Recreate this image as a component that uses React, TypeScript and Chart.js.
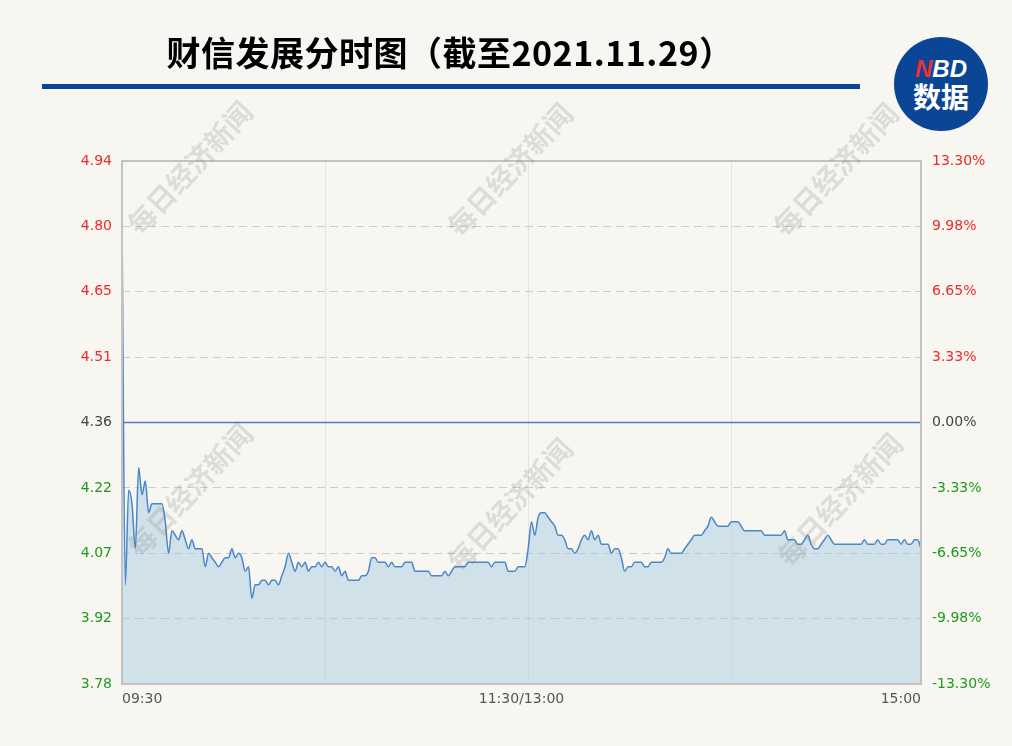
import React, { useEffect, useRef } from 'react';
import { Chart, registerables } from 'chart.js';

Chart.register(...registerables);

const titleText = '财信发展分时图（截至2021.11.29）';
const watermarkText = '每日经济新闻';

const prevClose = 4.36;
const priceMax = 4.94;
const priceMin = 3.78;

const priceTickLabels = ['4.94', '4.80', '4.65', '4.51', '4.36', '4.22', '4.07', '3.92', '3.78'];
const pctTickLabels = ['13.30%', '9.98%', '6.65%', '3.33%', '0.00%', '-3.33%', '-6.65%', '-9.98%', '-13.30%'];

const timeTickLabels = ['09:30', '11:30/13:00', '15:00'];
const timeTickMinutes = [0, 120, 240];
const hourGridMinutes = [61, 122, 183];

// 09:30 - 11:30 (one value per minute)
const morningPrices = [
  4.80, 4.00, 4.21, 4.18, 4.08, 4.26, 4.20, 4.23, 4.16, 4.18,
  4.18, 4.18, 4.18, 4.14, 4.07, 4.12, 4.11, 4.10, 4.12, 4.10,
  4.08, 4.10, 4.08, 4.08, 4.08, 4.04, 4.07, 4.06, 4.05, 4.04,
  4.05, 4.06, 4.06, 4.08, 4.06, 4.07, 4.06, 4.03, 4.04, 3.97,
  4.00, 4.00, 4.01, 4.01, 4.00, 4.01, 4.01, 4.00, 4.02, 4.04,
  4.07, 4.05, 4.03, 4.05, 4.04, 4.05, 4.03, 4.04, 4.04, 4.05,
  4.04, 4.05, 4.04, 4.04, 4.03, 4.04, 4.02, 4.03, 4.01, 4.01,
  4.01, 4.01, 4.02, 4.02, 4.03, 4.06, 4.06, 4.05, 4.05, 4.05,
  4.04, 4.05, 4.04, 4.04, 4.04, 4.05, 4.05, 4.05, 4.03, 4.03,
  4.03, 4.03, 4.03, 4.02, 4.02, 4.02, 4.02, 4.03, 4.02, 4.03,
  4.04, 4.04, 4.04, 4.04, 4.05, 4.05, 4.05, 4.05, 4.05, 4.05,
  4.05, 4.04, 4.05, 4.05, 4.05, 4.05, 4.03, 4.03, 4.03, 4.04,
  4.04,
];

// 13:01 - 15:00 (one value per minute)
const afternoonPrices = [
  4.04, 4.08, 4.14, 4.11, 4.15, 4.16, 4.16, 4.15, 4.14, 4.13,
  4.11, 4.11, 4.10, 4.08, 4.08, 4.07, 4.08, 4.10, 4.11, 4.10,
  4.12, 4.10, 4.11, 4.09, 4.09, 4.09, 4.07, 4.08, 4.08, 4.06,
  4.03, 4.04, 4.04, 4.05, 4.05, 4.05, 4.04, 4.04, 4.05, 4.05,
  4.05, 4.05, 4.06, 4.08, 4.07, 4.07, 4.07, 4.07, 4.08, 4.09,
  4.10, 4.11, 4.11, 4.11, 4.12, 4.13, 4.15, 4.14, 4.13, 4.13,
  4.13, 4.13, 4.14, 4.14, 4.14, 4.13, 4.12, 4.12, 4.12, 4.12,
  4.12, 4.12, 4.11, 4.11, 4.11, 4.11, 4.11, 4.11, 4.12, 4.10,
  4.10, 4.10, 4.09, 4.09, 4.10, 4.11, 4.09, 4.08, 4.08, 4.09,
  4.10, 4.11, 4.10, 4.09, 4.09, 4.09, 4.09, 4.09, 4.09, 4.09,
  4.09, 4.09, 4.10, 4.09, 4.09, 4.09, 4.10, 4.09, 4.09, 4.10,
  4.10, 4.10, 4.10, 4.09, 4.10, 4.09, 4.09, 4.10, 4.10, 4.08,
];

const RED = '#ee2a2a';
const GREEN = '#1f9a1f';
const NEUTRAL = '#444444';
const BG = '#f8f6f1';
const TICK_FONT = { family: '"DejaVu Sans", sans-serif', size: 14 };

function tickColor(index: number) {
  const mid = (priceTickLabels.length - 1) / 2;
  if (index < mid) return RED;
  if (index === mid) return NEUTRAL;
  return GREEN;
}

function buildYTicks(scale: any) {
  const n = priceTickLabels.length;
  scale.ticks = priceTickLabels.map((_, k) => ({ value: priceMax - (k * (priceMax - priceMin)) / (n - 1) }));
}

const framePlugin = {
  id: 'frame',
  afterDatasetsDraw(chart: any) {
    const { ctx, chartArea } = chart;
    ctx.save();
    ctx.strokeStyle = '#c2c2c2';
    ctx.lineWidth = 2;
    ctx.strokeRect(chartArea.left, chartArea.top, chartArea.right - chartArea.left, chartArea.bottom - chartArea.top);
    ctx.restore();
  },
};

const watermarkSpots = [
  [190, 168], [510, 170], [836, 170],
  [190, 490], [510, 505], [840, 500],
];

const watermarkPlugin = {
  id: 'watermark',
  afterDraw(chart: any) {
    const { ctx } = chart;
    ctx.save();
    ctx.font = 'bold 28px "Noto Sans CJK SC", sans-serif';
    ctx.fillStyle = 'rgba(120,120,120,0.2)';
    ctx.textAlign = 'center';
    ctx.textBaseline = 'middle';
    for (const [x, y] of watermarkSpots) {
      ctx.save();
      ctx.translate(x, y);
      ctx.rotate(-Math.PI / 4 - 0.04);
      ctx.fillText(watermarkText, 0, 0);
      ctx.restore();
    }
    ctx.restore();
  },
};

export default function App() {
  const canvasRef = useRef<HTMLCanvasElement | null>(null);

  useEffect(() => {
    if (!canvasRef.current) return;
    const prices = morningPrices.concat(afternoonPrices);
    const lastIndex = prices.length - 1;
    const chart = new Chart(canvasRef.current, {
      type: 'line',
      data: {
        datasets: [
          {
            label: 'prevClose',
            data: [
              { x: 0, y: prevClose },
              { x: lastIndex, y: prevClose },
            ],
            borderColor: '#4d7fbf',
            borderWidth: 1.5,
            pointRadius: 0,
            fill: false,
            yAxisID: 'y',
          },
          {
            label: 'price',
            data: prices.map((y, i) => ({ x: i, y })),
            borderColor: '#4a86c8',
            borderWidth: 1.5,
            backgroundColor: 'rgba(160,200,225,0.45)',
            fill: 'start',
            pointRadius: 0,
            cubicInterpolationMode: 'monotone',
            yAxisID: 'y',
          },
        ],
      },
      options: {
        responsive: false,
        animation: false,
        events: [],
        layout: { padding: { top: 161, left: 0, right: 0, bottom: 0 } },
        plugins: {
          legend: { display: false },
          tooltip: { enabled: false },
        },
        scales: {
          x: {
            type: 'linear',
            min: 0,
            max: 240,
            afterBuildTicks: (scale: any) => {
              scale.ticks = [...timeTickMinutes, ...hourGridMinutes]
                .sort((a, b) => a - b)
                .map((v) => ({ value: v }));
            },
            afterFit: (scale: any) => {
              scale.height = 62;
            },
            border: { display: false },
            grid: {
              drawTicks: false,
              color: (ctx: any) => (hourGridMinutes.includes(ctx.tick?.value) ? '#e4e4e4' : 'rgba(0,0,0,0)'),
              lineWidth: 1,
            },
            ticks: {
              autoSkip: false,
              maxRotation: 0,
              align: 'inner',
              padding: 7,
              color: '#555555',
              font: TICK_FONT,
              callback: (value: any) => {
                const k = timeTickMinutes.indexOf(Number(value));
                return k >= 0 ? timeTickLabels[k] : '';
              },
            },
          },
          y: {
            type: 'linear',
            position: 'left',
            min: priceMin,
            max: priceMax,
            afterBuildTicks: buildYTicks,
            afterFit: (scale: any) => {
              scale.width = 122;
            },
            border: { display: false, dash: [8, 5] },
            grid: { drawTicks: false, color: '#cccccc', lineWidth: 1 },
            ticks: {
              padding: 10,
              font: TICK_FONT,
              color: (ctx: any) => tickColor(ctx.index),
              callback: (_v: any, index: number) => priceTickLabels[index],
            },
          },
          y2: {
            type: 'linear',
            position: 'right',
            min: priceMin,
            max: priceMax,
            afterBuildTicks: buildYTicks,
            afterFit: (scale: any) => {
              scale.width = 91;
            },
            border: { display: false },
            grid: { drawOnChartArea: false, drawTicks: false },
            ticks: {
              padding: 11,
              font: TICK_FONT,
              color: (ctx: any) => tickColor(ctx.index),
              callback: (_v: any, index: number) => pctTickLabels[index],
            },
          },
        },
      } as any,
      plugins: [framePlugin, watermarkPlugin],
    });
    return () => chart.destroy();
  }, []);

  return (
    <div
      style={{
        position: 'absolute',
        left: 0,
        top: 0,
        width: 1012,
        height: 746,
        background: BG,
        overflow: 'hidden',
        fontFamily: '"Noto Sans CJK SC", sans-serif',
      }}
    >
      <canvas ref={canvasRef} width={1012} height={746} style={{ position: 'absolute', left: 0, top: 0 }} />
      <div
        style={{
          position: 'absolute',
          left: 0,
          top: 34,
          width: 900,
          textAlign: 'center',
          fontSize: 34,
          lineHeight: '36px',
          fontWeight: 700,
          letterSpacing: 0.5,
          color: '#000',
          whiteSpace: 'nowrap',
        }}
      >
        {titleText}
      </div>
      <div style={{ position: 'absolute', left: 42, top: 84, width: 818, height: 5, background: '#0d4596' }} />
      <div
        style={{
          position: 'absolute',
          left: 894,
          top: 37,
          width: 94,
          height: 94,
          borderRadius: '50%',
          background: '#0b4596',
          display: 'flex',
          flexDirection: 'column',
          alignItems: 'center',
          justifyContent: 'center',
          color: '#fff',
          fontWeight: 700,
        }}
      >
        <div style={{ fontFamily: '"Liberation Sans", Arial, sans-serif', fontSize: 24, lineHeight: '24px', fontWeight: 700, fontStyle: 'italic' }}>
          <span style={{ color: '#e8303a' }}>N</span>BD
        </div>
        <div style={{ fontSize: 28, lineHeight: '31px', fontWeight: 700 }}>数据</div>
      </div>
    </div>
  );
}
